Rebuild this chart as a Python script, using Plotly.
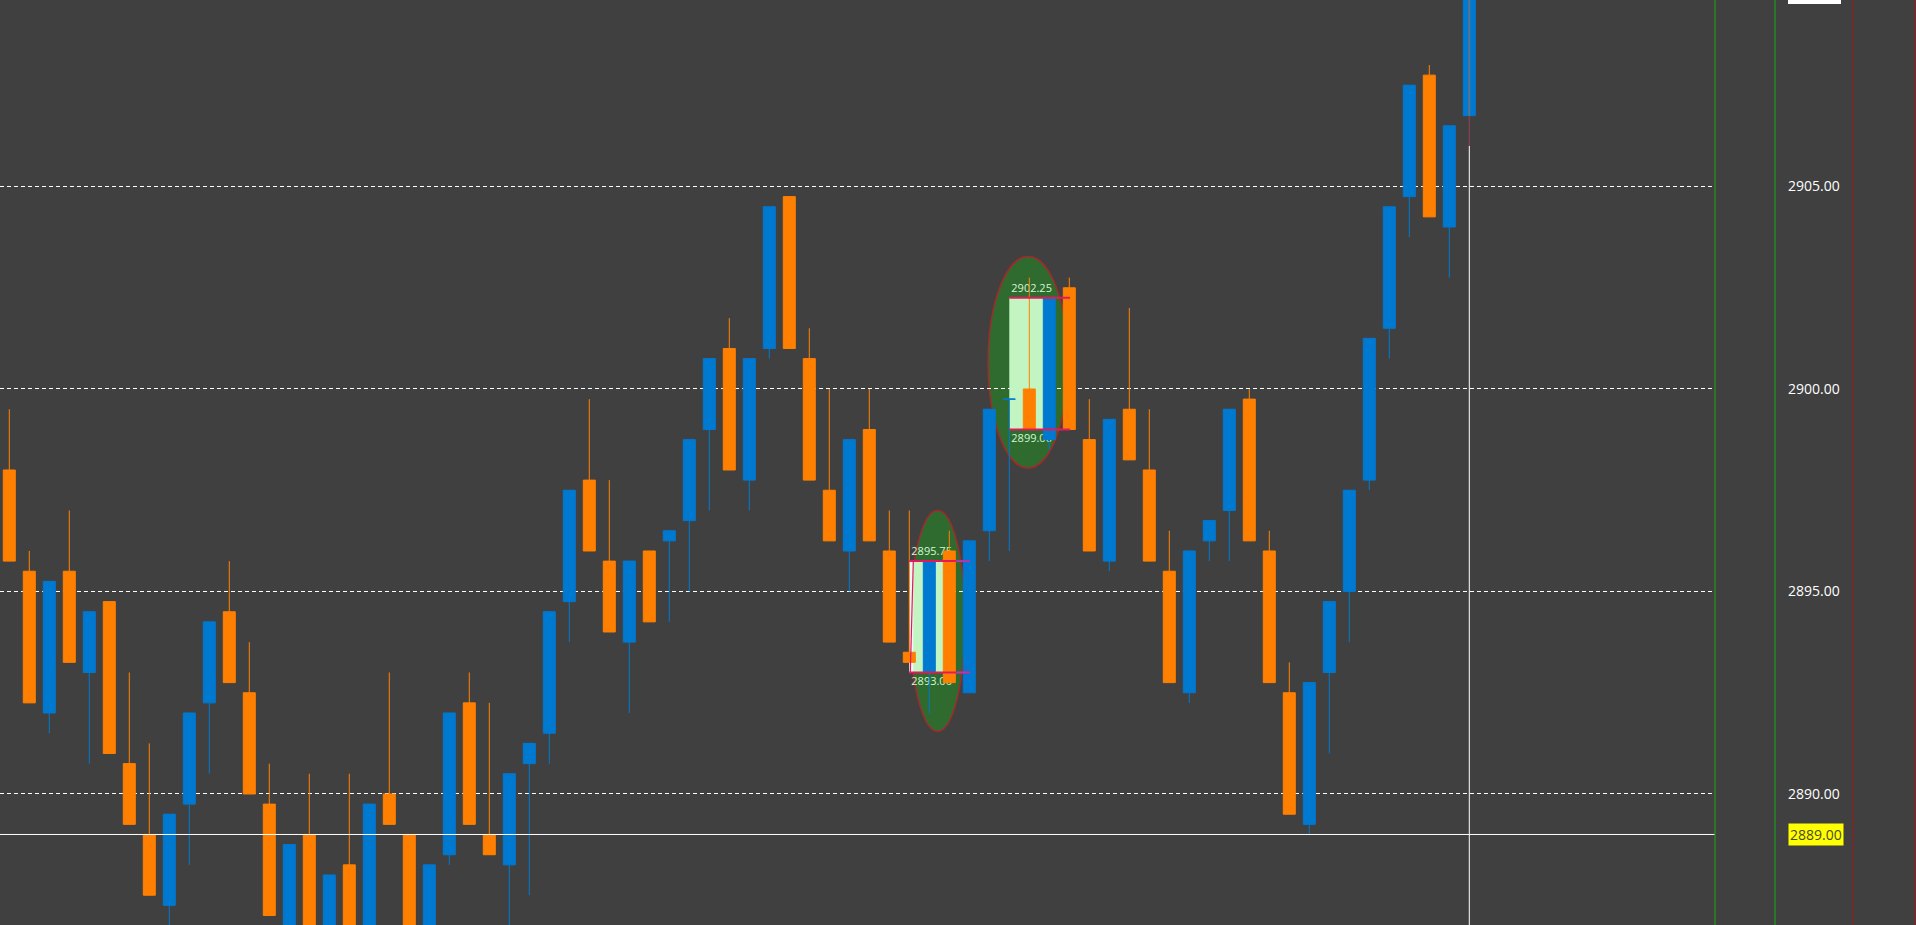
import plotly.graph_objects as go

# ---------------- data ----------------
bars = list(range(74))
opens = [2898.0, 2895.5, 2892.0, 2895.5, 2893.0, 2894.75, 2890.75, 2889.0, 2887.25, 2889.75,
         2892.25, 2894.5, 2892.5, 2889.75, 2886.25, 2889.0, 2886.0, 2888.25, 2886.0, 2890.0,
         2889.0, 2886.25, 2888.5, 2892.25, 2889.0, 2888.25, 2890.75, 2891.5, 2894.75, 2897.75,
         2895.75, 2893.75, 2896.0, 2896.25, 2896.75, 2899.0, 2901.0, 2897.75, 2901.0, 2904.75,
         2900.75, 2897.5, 2896.0, 2899.0, 2896.0, 2893.5, 2893.0, 2896.0, 2892.5, 2896.5,
         2899.75, 2900.0, 2898.75, 2902.5, 2898.75, 2895.75, 2899.5, 2898.0, 2895.5, 2892.5,
         2896.25, 2897.0, 2899.75, 2896.0, 2892.5, 2889.25, 2893.0, 2895.0, 2897.75, 2901.5,
         2904.75, 2907.75, 2904.0, 2906.75]
highs = [2899.5, 2896.0, 2895.25, 2897.0, 2894.5, 2894.75, 2893.0, 2891.25, 2889.5, 2892.0,
         2894.25, 2895.75, 2893.75, 2890.75, 2888.75, 2890.5, 2888.0, 2890.5, 2889.75, 2893.0,
         2889.0, 2888.25, 2892.0, 2893.0, 2892.25, 2890.5, 2891.25, 2894.5, 2897.5, 2899.75,
         2897.75, 2895.75, 2896.0, 2896.5, 2898.75, 2900.75, 2901.75, 2900.75, 2904.5, 2904.75,
         2901.5, 2900.0, 2898.75, 2900.0, 2897.0, 2897.0, 2895.75, 2896.5, 2896.25, 2899.5,
         2899.75, 2902.75, 2902.25, 2902.75, 2899.75, 2899.25, 2902.0, 2899.5, 2896.5, 2896.0,
         2896.75, 2899.5, 2900.0, 2896.5, 2893.25, 2892.75, 2894.75, 2897.5, 2901.25, 2904.5,
         2907.5, 2908.0, 2906.5, 2910.5]
lows = [2895.75, 2892.25, 2891.5, 2893.25, 2890.75, 2891.0, 2889.25, 2887.5, 2886.5, 2888.25,
        2890.5, 2892.75, 2890.0, 2887.0, 2885.75, 2886.0, 2885.5, 2886.0, 2885.75, 2889.25,
        2886.25, 2885.75, 2888.25, 2889.25, 2888.5, 2886.75, 2887.5, 2890.75, 2893.75, 2896.0,
        2894.0, 2892.0, 2894.25, 2894.25, 2895.0, 2897.0, 2898.0, 2897.0, 2900.75, 2901.0,
        2897.75, 2896.25, 2895.0, 2896.25, 2893.75, 2893.25, 2892.0, 2892.75, 2892.5, 2895.75,
        2896.0, 2899.0, 2898.5, 2899.0, 2896.0, 2895.5, 2898.25, 2895.75, 2892.75, 2892.25,
        2895.75, 2895.75, 2896.25, 2892.75, 2889.5, 2889.0, 2891.0, 2893.75, 2897.5, 2900.75,
        2903.75, 2904.25, 2902.75, 2906.0]
closes = [2895.75, 2892.25, 2895.25, 2893.25, 2894.5, 2891.0, 2889.25, 2887.5, 2889.5, 2892.0,
          2894.25, 2892.75, 2890.0, 2887.0, 2888.75, 2886.25, 2888.0, 2886.25, 2889.75, 2889.25,
          2886.5, 2888.25, 2892.0, 2889.25, 2888.5, 2890.5, 2891.25, 2894.5, 2897.5, 2896.0,
          2894.0, 2895.75, 2894.25, 2896.5, 2898.75, 2900.75, 2898.0, 2900.75, 2904.5, 2901.0,
          2897.75, 2896.25, 2898.75, 2896.25, 2893.75, 2893.25, 2895.75, 2892.75, 2896.25, 2899.5,
          2899.75, 2899.0, 2902.25, 2899.0, 2896.0, 2899.25, 2898.25, 2895.75, 2892.75, 2896.0,
          2896.75, 2899.5, 2896.25, 2892.75, 2889.5, 2892.75, 2894.75, 2897.5, 2901.25, 2904.5,
          2907.5, 2904.25, 2906.5, 2910.5]

price_ticks = [2890, 2895, 2900, 2905]
bid_price = 2889.00

# marked zones (rectangle with level lines, inside an ellipse)
zone_start = [45, 50]
zone_end = [47, 52]
zone_line_end = [48.04, 53.04]
zone_low = [2893.00, 2899.00]
zone_high = [2895.75, 2902.25]
ell_x0 = [45.04, 48.94]
ell_x1 = [47.79, 52.94]
ell_y0 = [2891.55, 2898.05]
ell_y1 = [2897.0, 2903.27]

# ---------------- styling ----------------
BG = '#404040'
BLUE = '#0079d1'
ORANGE = '#ff8000'
ELL_FILL = '#2f6b2f'
ELL_LINE = '#a32a2a'
ZONE_FILL = '#c2f5c2'
LEVEL = '#e3195c'
LABEL_COL = '#d2f7d2'
y_range = [2886.765, 2909.605]
x_range = [-0.465, 85.285]
PLOT_W = 1715.0

fig = go.Figure()
fig.add_trace(go.Candlestick(
    x=bars, open=opens, high=highs, low=lows, close=closes,
    increasing=dict(line=dict(color=BLUE, width=1), fillcolor=BLUE),
    decreasing=dict(line=dict(color=ORANGE, width=1), fillcolor=ORANGE),
    whiskerwidth=0, hoverinfo='skip', showlegend=False,
))

shapes = []
for k in range(len(zone_start)):
    shapes.append(dict(type='circle', xref='x', yref='y', layer='below',
                       x0=ell_x0[k], x1=ell_x1[k], y0=ell_y0[k], y1=ell_y1[k],
                       fillcolor=ELL_FILL, line=dict(color=ELL_LINE, width=1.5)))
for k in range(len(zone_start)):
    shapes.append(dict(type='rect', xref='x', yref='y', layer='between',
                       x0=zone_start[k], x1=zone_end[k], y0=zone_low[k], y1=zone_high[k],
                       fillcolor=ZONE_FILL, line=dict(width=0)))
# white edge of first zone
shapes.append(dict(type='rect', xref='x', yref='y', layer='between',
                   x0=zone_start[0], x1=zone_start[0] + 0.2, y0=zone_low[0], y1=zone_high[0],
                   fillcolor='#f4f4f4', line=dict(width=0)))
# level labels (under the candles)
for k in range(len(zone_start)):
    for val, ya in ((zone_high[k], 'bottom'), (zone_low[k], 'top')):
        shapes.append(dict(type='line', xref='x', yref='y', layer='between',
                           x0=zone_start[k], x1=zone_line_end[k], y0=val, y1=val,
                           line=dict(color='rgba(0,0,0,0)', width=0),
                           label=dict(text=f'{val:.2f}', textposition='start', textangle=0,
                                      xanchor='left', yanchor=ya, padding=2,
                                      font=dict(family='Open Sans', size=11, color=LABEL_COL))))
# level lines (above candles)
for k in range(len(zone_start)):
    for val in (zone_high[k], zone_low[k]):
        shapes.append(dict(type='line', xref='x', yref='y', layer='above',
                           x0=zone_start[k], x1=zone_line_end[k], y0=val, y1=val,
                           line=dict(color=LEVEL, width=2)))
for val in (zone_high[0], zone_low[0]):
    shapes.append(dict(type='line', xref='x', yref='y', layer='above',
                       x0=zone_end[0] + 0.35, x1=zone_line_end[0], y0=val, y1=val,
                       line=dict(color='#a83cb0', width=2)))
shapes.append(dict(type='line', xref='x', yref='y', layer='above',
                   x0=zone_start[0] + 0.05, x1=zone_start[0] + 0.2, y0=zone_low[0], y1=zone_high[0],
                   line=dict(color=LEVEL, width=1.2)))

# bid line
shapes.append(dict(type='line', xref='paper', yref='y', layer='above',
                   x0=0, x1=1, y0=bid_price, y1=bid_price, line=dict(color='white', width=1)))
# current-bar vertical line
last = bars[-1]
shapes.append(dict(type='line', xref='x', yref='y', layer='above',
                   x0=last, x1=last, y0=lows[-1], y1=y_range[0], line=dict(color='white', width=1)))
shapes.append(dict(type='line', xref='x', yref='y', layer='above',
                   x0=last, x1=last, y0=lows[-1], y1=opens[-1], line=dict(color='#b03030', width=1)))
shapes.append(dict(type='line', xref='x', yref='y', layer='above',
                   x0=last, x1=last, y0=opens[-1], y1=y_range[1], line=dict(color='#5f7386', width=2)))
# panel separators on the right
for px, col in ((1715, '#1f9a1f'), (1775, '#1f9a1f'), (1853, '#8c2222'), (1915, '#8c2222')):
    shapes.append(dict(type='line', xref='paper', yref='paper', layer='above',
                       x0=px / PLOT_W, x1=px / PLOT_W, y0=0, y1=1,
                       line=dict(color=col, width=1.2)))
# white price box cut at the top
shapes.append(dict(type='rect', xref='paper', yref='paper', layer='above',
                   x0=1788 / PLOT_W, x1=1841 / PLOT_W, y0=1 - 4 / 925, y1=1.01,
                   fillcolor='white', line=dict(width=0)))

fig.update_layout(
    width=1916, height=925,
    margin=dict(l=0, r=201, t=0, b=0, pad=0),
    paper_bgcolor=BG, plot_bgcolor=BG,
    showlegend=False,
    boxgap=0.4, boxgroupgap=0,
    font=dict(family='Open Sans', color='white'),
    xaxis=dict(range=x_range, visible=False, showgrid=False, zeroline=False,
               rangeslider=dict(visible=False), fixedrange=True),
    yaxis=dict(range=y_range, side='right', tickvals=price_ticks, tickformat='.2f',
               showgrid=True, gridcolor='white', gridwidth=1, griddash='4px,3px',
               zeroline=False, showline=False, ticks='', ticklabelstandoff=72,
               tickfont=dict(family='Open Sans', size=14, color='white'),
               automargin=False, fixedrange=True),
    shapes=shapes,
    annotations=[dict(xref='paper', yref='y', x=1788 / PLOT_W, y=bid_price,
                      xanchor='left', yanchor='middle', text=f'{bid_price:.2f}',
                      showarrow=False, bgcolor='#ffff00', borderpad=1,
                      font=dict(family='Open Sans', size=14, color='#4a4a2a'))],
    hovermode=False,
)

fig.write_html("out.html", config={'displayModeBar': False},
               post_script="document.body.style.margin='0';document.body.style.overflow='hidden';")
